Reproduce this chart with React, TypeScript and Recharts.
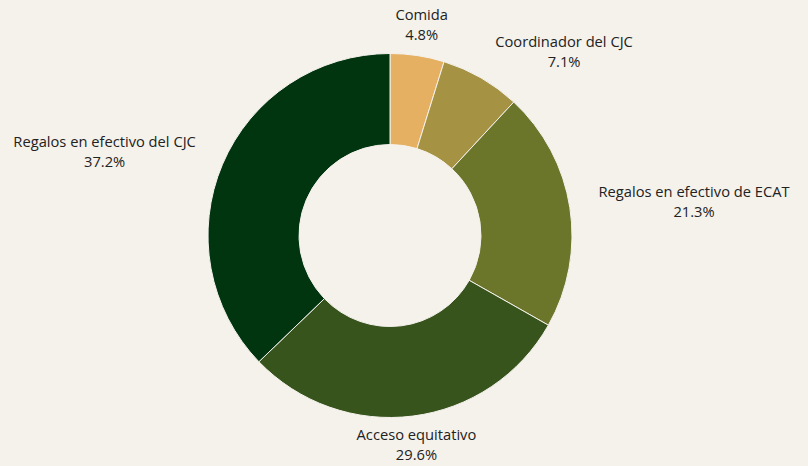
import { PieChart, Pie, Cell } from 'recharts';

const categories = [
  'Comida',
  'Coordinador del CJC',
  'Regalos en efectivo de ECAT',
  'Acceso equitativo',
  'Regalos en efectivo del CJC',
];
const shares = [4.8, 7.1, 21.3, 29.6, 37.2];
const colors = ['#e6b062', '#a59242', '#6b762b', '#37541d', '#00350f'];

const data = categories.map((name, i) => ({ name, value: shares[i] }));

const BG = '#f5f2ec';
const FONT = '"Open Sans", sans-serif';
const FS = 14.7;

let ctx: CanvasRenderingContext2D | null = null;
const measure = (s: string) => {
  if (!ctx) ctx = document.createElement('canvas').getContext('2d');
  if (!ctx) return s.length * 7.6;
  ctx.font = `${FS}px ${FONT}`;
  return ctx.measureText(s).width;
};

if (typeof document !== 'undefined') document.body.style.margin = '0';

const renderLabel = (props: any) => {
  const { cx, cy, midAngle, index } = props;
  const rad = (-midAngle * Math.PI) / 180;
  const dx = Math.cos(rad);
  const dy = Math.sin(rad);
  const r = 190;
  const px = cx + r * dx;
  const py = cy + r * dy;
  const name = categories[index];
  const pct = `${shares[index].toFixed(1)}%`;
  const halfW = Math.max(measure(name), measure(pct)) / 2;
  const k = Math.min(1, Math.max(0, (Math.abs(dx) - 0.2) * 3.3));
  const x = px + Math.sign(dx) * halfW * k + 21 * dx;
  const y = py + 22 * dy - 1.5;
  return (
    <g key={`lbl-${index}`}>
      <text x={x} y={y - 10} textAnchor="middle" dominantBaseline="central" fill="#222" fontSize={FS} fontFamily={FONT}>
        {name}
      </text>
      <text x={x} y={y + 10} textAnchor="middle" dominantBaseline="central" fill="#222" fontSize={FS} fontFamily={FONT}>
        {pct}
      </text>
    </g>
  );
};

export default function App() {
  return (
    <div style={{ width: 808, height: 466, background: BG }}>
      <PieChart width={808} height={466} margin={{ top: 0, right: 0, bottom: 0, left: 0 }}>
        <Pie
          data={data}
          dataKey="value"
          nameKey="name"
          cx={390}
          cy={235.5}
          innerRadius={91}
          outerRadius={182}
          startAngle={90}
          endAngle={-270}
          stroke={BG}
          strokeWidth={1}
          label={renderLabel}
          labelLine={false}
          isAnimationActive={false}
        >
          {data.map((d, i) => (
            <Cell key={d.name} fill={colors[i]} />
          ))}
        </Pie>
      </PieChart>
    </div>
  );
}
